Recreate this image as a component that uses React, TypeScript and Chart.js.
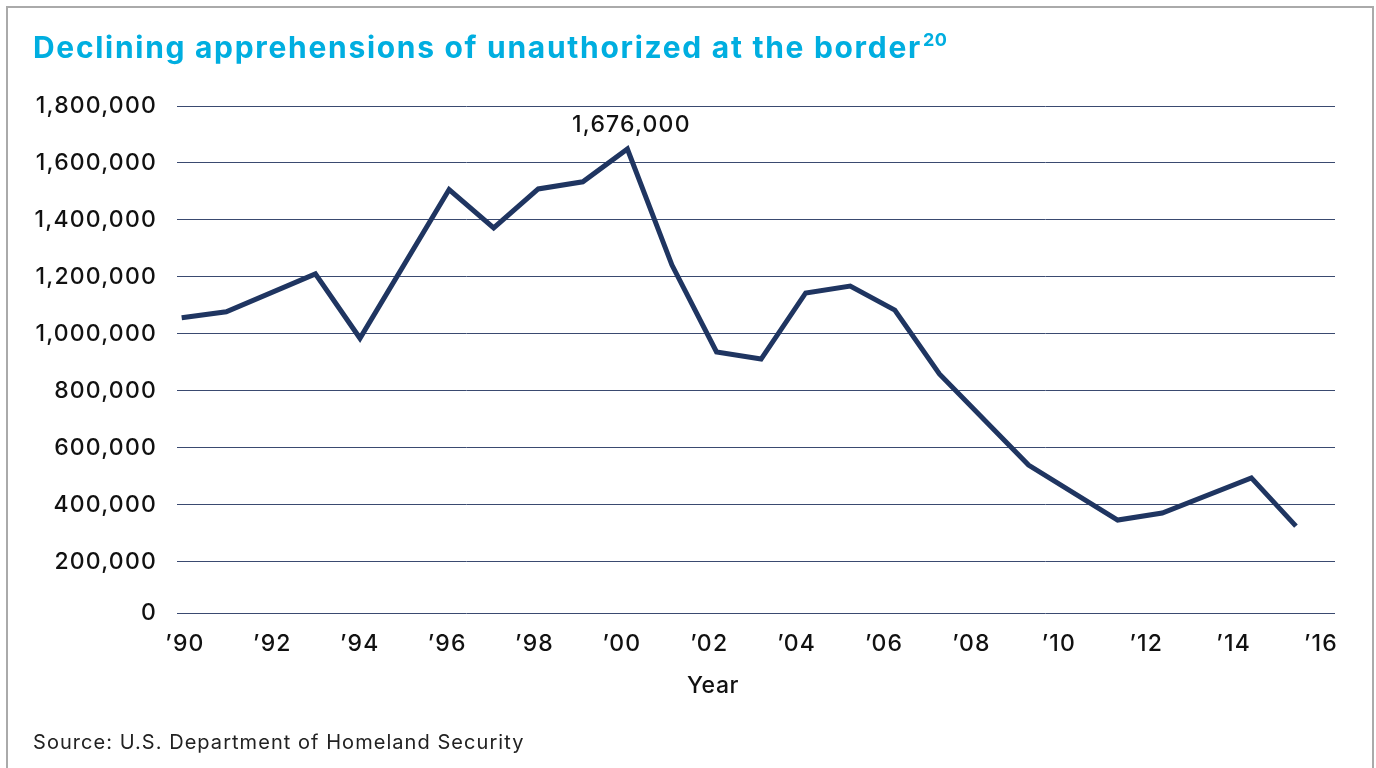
import React, { useEffect, useRef } from "react";
import { Chart, registerables } from "chart.js";

Chart.register(...registerables);

// ---- Data ----
const YEARS = [
  1990, 1991, 1993, 1994, 1996, 1997, 1998, 1999, 2000, 2001, 2002,
  2003, 2004, 2005, 2006, 2007, 2009, 2011, 2012, 2014, 2015,
];
const APPREHENSIONS = [
  1057000, 1078000, 1211000, 985000, 1507000, 1372000, 1509000, 1534000,
  1649000, 1242000, 937000, 912000, 1144000, 1168000, 1084000, 860000,
  540000, 347000, 372000, 495000, 326000,
];
const X_TICK_YEARS = [
  1990, 1992, 1994, 1996, 1998, 2000, 2002, 2004, 2006, 2008, 2010, 2012,
  2014, 2016,
];
// The original draws its "0" baseline a little above true zero.
const Y_BASELINE = 21000;
const Y_TICKS = [
  Y_BASELINE, 200000, 400000, 600000, 800000, 1000000, 1200000, 1400000,
  1600000, 1800000,
];
const PEAK_LABEL = "1,676,000";
const TITLE = "Declining apprehensions of unauthorized at the border";
const TITLE_NOTE = "20";
const X_TITLE = "Year";
const SOURCE = "Source: U.S. Department of Homeland Security";

const FONT = "Inter, 'Noto Sans', sans-serif";
const LINE_COLOR = "#1f3561";
const GRID_COLOR = "#3a4a70";
const TEXT_COLOR = "#111111";
const CANVAS_LETTER_SPACING = "1.2px";

const letterSpacingPlugin = {
  id: "letterSpacing",
  beforeLayout(chart: any) {
    chart.ctx.letterSpacing = CANVAS_LETTER_SPACING;
  },
  beforeDraw(chart: any) {
    chart.ctx.letterSpacing = CANVAS_LETTER_SPACING;
  },
};

const peakLabelPlugin = {
  id: "peakLabel",
  afterDatasetsDraw(chart: any) {
    const meta = chart.getDatasetMeta(0);
    let idx = 0;
    APPREHENSIONS.forEach((v, i) => {
      if (v > APPREHENSIONS[idx]) idx = i;
    });
    const pt = meta.data[idx];
    if (!pt) return;
    const ctx = chart.ctx;
    ctx.save();
    ctx.letterSpacing = CANVAS_LETTER_SPACING;
    ctx.font = `500 23px ${FONT}`;
    ctx.fillStyle = TEXT_COLOR;
    ctx.textAlign = "center";
    ctx.textBaseline = "middle";
    ctx.fillText(PEAK_LABEL, pt.x + 4, pt.y - 24);
    ctx.restore();
  },
};

export default function App() {
  const canvasRef = useRef<HTMLCanvasElement | null>(null);

  useEffect(() => {
    if (!canvasRef.current) return;
    const chart = new Chart(canvasRef.current, {
      type: "line",
      data: {
        datasets: [
          {
            label: "Apprehensions",
            data: YEARS.map((y, i) => ({ x: y, y: APPREHENSIONS[i] })),
            xAxisID: "x",
            yAxisID: "y",
            borderColor: LINE_COLOR,
            borderWidth: 5,
            borderJoinStyle: "miter",
            borderCapStyle: "butt",
            pointRadius: 0,
            tension: 0,
            fill: false,
          },
        ],
      },
      options: {
        responsive: false,
        animation: false,
        devicePixelRatio: 1,
        layout: { padding: { top: 106, right: 41, bottom: 95, left: 0 } },
        plugins: {
          legend: { display: false },
          tooltip: { enabled: false },
          title: { display: false },
        },
        scales: {
          x: {
            type: "linear",
            display: false,
            min: 1989.895,
            max: 2015.876,
          },
          xLabels: {
            type: "linear",
            position: "bottom",
            min: 1989.817,
            max: 2016.32,
            afterBuildTicks: (scale: any) => {
              scale.ticks = X_TICK_YEARS.map((v) => ({ value: v }));
            },
            afterFit: (scale: any) => {
              scale.height = 60;
            },
            grid: { display: false, drawTicks: false },
            border: { display: false },
            ticks: {
              autoSkip: false,
              maxRotation: 0,
              padding: 17,
              color: TEXT_COLOR,
              font: { family: FONT, size: 23, weight: "500" },
              callback: (v: any) => "\u2019" + String(Number(v) % 100).padStart(2, "0"),
            },
          },
          y: {
            type: "linear",
            position: "left",
            min: Y_BASELINE,
            max: 1800000,
            afterBuildTicks: (scale: any) => {
              scale.ticks = Y_TICKS.map((v) => ({ value: v }));
            },
            afterFit: (scale: any) => {
              scale.width = 177;
            },
            grid: { color: GRID_COLOR, lineWidth: 1, drawTicks: false },
            border: { display: false },
            ticks: {
              padding: 20,
              color: TEXT_COLOR,
              font: { family: FONT, size: 23, weight: "500" },
              callback: (v: any) =>
                Number(v) <= Y_BASELINE ? "0" : Number(v).toLocaleString("en-US"),
            },
          },
        },
      },
      plugins: [letterSpacingPlugin, peakLabelPlugin],
    } as any);
    return () => chart.destroy();
  }, []);

  return (
    <div
      style={{
        position: "fixed",
        left: 0,
        top: 0,
        width: 1376,
        height: 768,
        overflow: "hidden",
        background: "#ffffff",
        fontFamily: FONT,
      }}
    >
      <div
        style={{
          position: "absolute",
          left: 6,
          top: 6,
          width: 1368,
          height: 820,
          border: "2px solid #aaaaaa",
          boxSizing: "border-box",
        }}
      />
      <canvas
        ref={canvasRef}
        width={1376}
        height={768}
        style={{ position: "absolute", left: 0, top: 0, width: 1376, height: 768 }}
      />
      <div
        style={{
          position: "absolute",
          left: 33,
          top: 32,
          fontSize: 30,
          lineHeight: 1,
          fontWeight: 700,
          letterSpacing: 1.7,
          color: "#00aee0",
          whiteSpace: "nowrap",
        }}
      >
        {TITLE}
        <span
          style={{
            fontSize: 18,
            position: "relative",
            top: -12,
            marginLeft: 1,
            letterSpacing: 0.5,
          }}
        >
          {TITLE_NOTE}
        </span>
      </div>
      <div
        style={{
          position: "absolute",
          left: 613,
          top: 674,
          width: 200,
          textAlign: "center",
          fontSize: 23,
          lineHeight: 1,
          fontWeight: 500,
          letterSpacing: 0.6,
          color: TEXT_COLOR,
        }}
      >
        {X_TITLE}
      </div>
      <div
        style={{
          position: "absolute",
          left: 33,
          top: 732,
          fontSize: 20,
          lineHeight: 1,
          letterSpacing: 1.05,
          color: "#222222",
          whiteSpace: "nowrap",
        }}
      >
        {SOURCE}
      </div>
    </div>
  );
}
